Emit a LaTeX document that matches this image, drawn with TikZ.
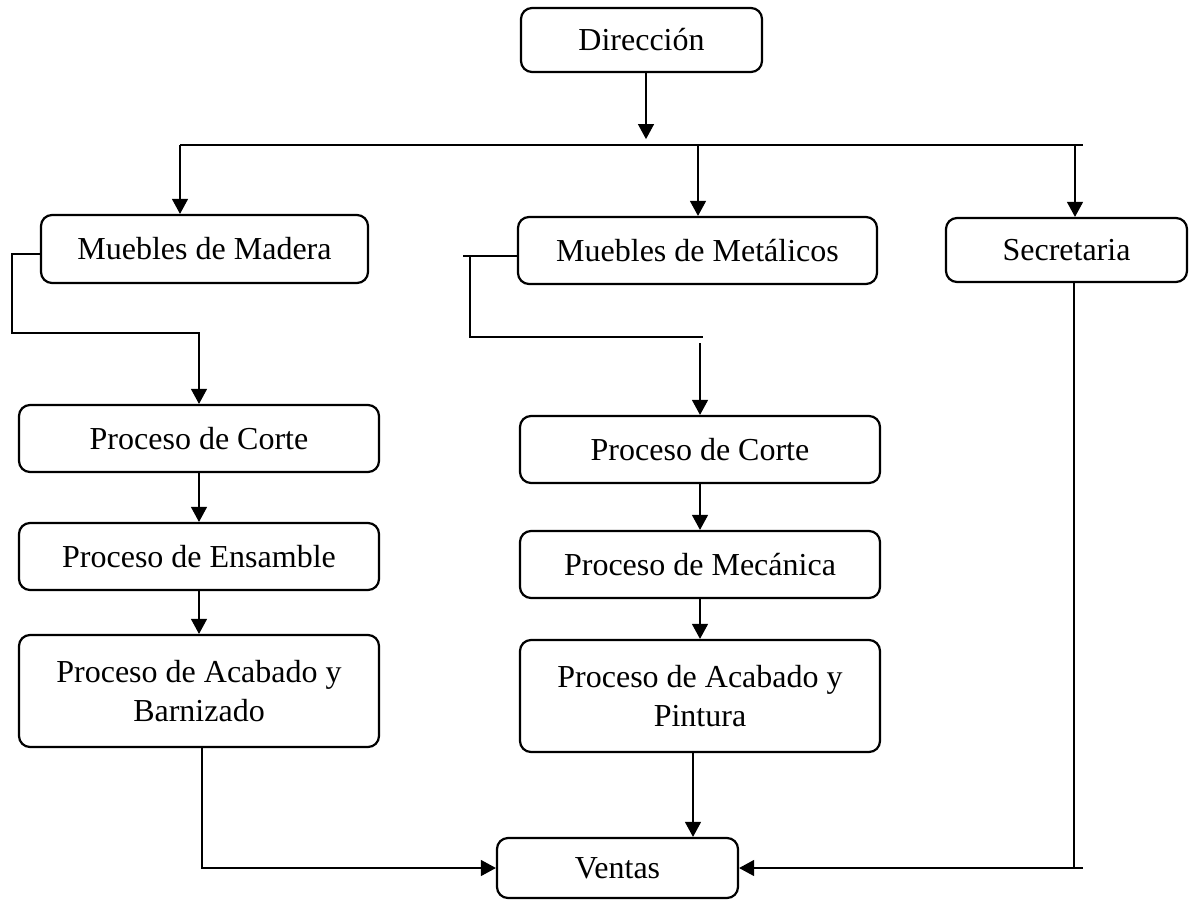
\documentclass[tikz,border=0pt]{standalone}
\usepackage{fontspec}
\setmainfont{Liberation Serif}
\usetikzlibrary{arrows.meta}
\tikzset{
  box/.style={draw, line width=2.2pt, rounded corners=11pt, inner sep=0pt, align=center,
    font=\fontsize{32}{39}\selectfont},
  conn/.style={draw, line width=1.2pt},
  arr/.style={conn, -{Triangle[width=16pt,length=15pt]}}
}
\begin{document}
\begin{tikzpicture}[x=1pt,y=-1pt]
\useasboundingbox (0,0) rectangle (1190,900);
% nodes
\node[box, minimum width=241pt, minimum height=64pt] (dir) at (641.5,40) {Dirección};
\node[box, minimum width=327pt, minimum height=68pt] (mad) at (204.5,249) {Muebles de Madera};
\node[box, minimum width=359pt, minimum height=67pt] (met) at (697.5,250.5) {Muebles de Metálicos};
\node[box, minimum width=241pt, minimum height=64pt] (sec) at (1066.5,250) {Secretaria};
\node[box, minimum width=360pt, minimum height=67pt] (cL) at (199,438.5) {Proceso de Corte};
\node[box, minimum width=360pt, minimum height=67pt] (eL) at (199,556.5) {Proceso de Ensamble};
\node[box, minimum width=360pt, minimum height=112pt] (aL) at (199,691) {Proceso de Acabado y\\Barnizado};
\node[box, minimum width=360pt, minimum height=67pt] (cM) at (700,449.5) {Proceso de Corte};
\node[box, minimum width=360pt, minimum height=67pt] (mM) at (700,564.5) {Proceso de Mecánica};
\node[box, minimum width=360pt, minimum height=112pt] (aM) at (700,696) {Proceso de Acabado y\\Pintura};
\node[box, minimum width=241pt, minimum height=60pt] (ven) at (617.5,868) {Ventas};
% coordinates
\coordinate (busL) at (180,145);
\coordinate (busM) at (698,145);
\coordinate (busS) at (1075,145);
\coordinate (busE) at (1083,145);
\coordinate (dirO) at ([xshift=4.5pt]dir.south);
\coordinate (madO) at ([yshift=-5pt]mad.west);
\coordinate (madA) at (12,333);
\coordinate (metO) at ([yshift=-5.5pt]met.west);
\coordinate (metE) at (463,256);
\coordinate (metV) at (470,256);
\coordinate (metB) at (470,337);
\coordinate (metR) at (703,337);
\coordinate (mgap) at (700,343);
\coordinate (aLo) at ([xshift=3pt]aL.south);
\coordinate (aMo) at ([xshift=-7pt]aM.south);
\coordinate (secO) at ([xshift=7.5pt]sec.south);
% connectors
\draw[arr] (dirO) -- ++(0,66);
\draw[conn] (busL) -- (busE);
\draw[arr] (busL) -- (busL |- mad.north);
\draw[arr] (busM) -- (busM |- met.north);
\draw[arr] (busS) -- (busS |- sec.north);
\draw[arr] (madO) -| (madA) -| (cL.north);
\draw[conn] (metO) -- (metE);
\draw[conn] (metV) -- (metB) -- (metR);
\draw[arr] (mgap) -- (cM.north);
\draw[arr] (cL.south) -- (eL.north);
\draw[arr] (eL.south) -- (aL.north);
\draw[arr] (cM.south) -- (mM.north);
\draw[arr] (mM.south) -- (aM.north);
\draw[arr] (aLo) |- (ven.west);
\draw[arr] (aMo) -- (aMo |- ven.north);
\draw[conn] (secO) -- (secO |- ven.east) -- ++(9,0);
\draw[arr] (secO |- ven.east) -- (ven.east);
\end{tikzpicture}
\end{document}
